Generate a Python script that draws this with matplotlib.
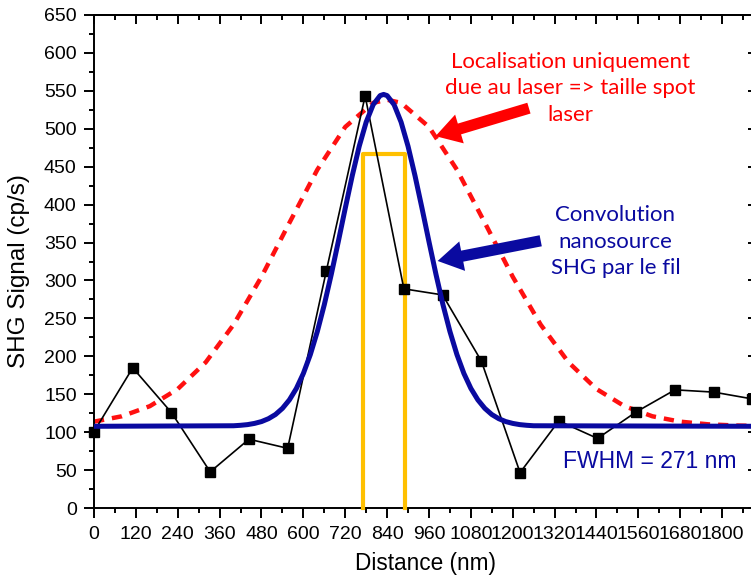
import matplotlib
matplotlib.use("Agg")
import matplotlib.pyplot as plt
from matplotlib.ticker import MultipleLocator

# ---- data ----
dist_nm = [0, 111, 222, 333, 444, 555, 666, 777, 888, 999, 1110, 1221,
           1332, 1443, 1554, 1665, 1776, 1887]
shg_signal = [101, 185, 126, 48, 91, 79, 313, 543, 289, 281, 194, 47,
              115, 92, 127, 156, 153, 144]

fit_x = [0, 400, 420, 440, 460, 480, 500, 520, 540, 560, 580, 600, 620, 640,
         660, 680, 700, 720, 740, 760, 780, 800, 820, 830, 840, 860, 880, 900,
         920, 940, 960, 980, 1000, 1020, 1040, 1060, 1080, 1100, 1120, 1140,
         1160, 1180, 1200, 1220, 1240, 1260, 1900]
fit_y = [108, 108.7, 109.3, 110.2, 111.8, 114.2, 118.0, 123.5, 131.6, 142.8,
         157.9, 177.6, 202.5, 232.8, 268.2, 308.1, 351.0, 395.1, 437.8, 476.7,
         508.6, 531.5, 543.5, 545.0, 543.5, 531.5, 508.6, 476.7, 437.8, 395.1,
         351.0, 308.1, 268.2, 232.8, 202.5, 177.6, 157.9, 142.8, 131.6, 123.5,
         118.0, 114.2, 111.8, 110.2, 109.3, 108.7, 108]

laser_x = [0, 80, 160, 240, 320, 400, 480, 560, 640, 720, 800, 840, 880, 960,
           1040, 1120, 1200, 1280, 1360, 1440, 1520, 1600, 1680, 1760, 1840, 1900]
laser_y = [114.1, 121.2, 134.5, 157.1, 192.2, 241.9, 304.9, 376.0, 445.9,
           502.2, 533.9, 538.0, 533.9, 502.2, 445.9, 376.0, 304.9, 241.9,
           192.2, 157.1, 134.5, 121.2, 114.1, 110.6, 109.0, 108.5]

source_x = [771, 771, 891, 891]
source_y = [0, 467, 467, 0]

xticks = list(range(0, 1801, 120))
yticks = list(range(0, 651, 50))

text_laser = "Localisation uniquement\ndue au laser => taille spot\nlaser"
text_conv = "Convolution\nnanosource\nSHG par le fil"
text_fwhm = "FWHM = 271 nm"

# ---- figure ----
plt.rcParams['font.family'] = ['Liberation Sans', 'DejaVu Sans']
fig = plt.figure(figsize=(7.51, 5.85), dpi=100)
ax = fig.add_axes([0.12517, 0.13111, 0.88282, 0.84376])

navy = '#0a0aa0'
ax.plot(laser_x, laser_y, color='#ff1010', lw=3.2, dashes=(2.3, 1.8), zorder=2)
ax.plot(source_x, source_y, color='#ffc000', lw=3.0, zorder=3, clip_on=False)
ax.plot(dist_nm, shg_signal, color='black', lw=1.2, marker='s', ms=7.3,
        zorder=4, clip_on=False)
ax.plot(fit_x, fit_y, color=navy, lw=3.6, zorder=5)

ax.set_xlim(0, 1900)
ax.set_ylim(0, 650)
ax.set_xticks(xticks)
ax.set_yticks(yticks)
ax.xaxis.set_minor_locator(MultipleLocator(60))
ax.yaxis.set_minor_locator(MultipleLocator(25))
ax.tick_params(which='both', direction='out', width=1.4, labelsize=14,
               pad=5.5)
ax.tick_params(which='major', length=7)
ax.tick_params(which='minor', length=3.6)
for s in ax.spines.values():
    s.set_linewidth(1.4)

top = ax.secondary_xaxis('top')
top.set_xticks(xticks)
top.xaxis.set_minor_locator(MultipleLocator(60))
top.tick_params(which='both', direction='in', width=1.4, labeltop=False)
top.tick_params(which='major', length=6.5)
top.tick_params(which='minor', length=3.6)
top.spines['top'].set_linewidth(1.4)

right = ax.secondary_yaxis('right')
right.set_yticks(yticks)
right.yaxis.set_minor_locator(MultipleLocator(25))
right.tick_params(which='both', direction='in', width=1.4, labelright=False)
right.tick_params(which='major', length=6.5)
right.tick_params(which='minor', length=3.6)
right.spines['right'].set_linewidth(1.4)

ax.set_xlabel("Distance (nm)", fontsize=16.3, labelpad=7)
ax.set_ylabel("SHG Signal (cp/s)", fontsize=17.5)
ax.yaxis.set_label_coords(-0.097, 0.481)

ax.text(1365, 553, text_laser, color='#ff0000', fontsize=16, family='Lato',
        ha='center', va='center', linespacing=1.42, zorder=6)
ax.text(1494, 351, text_conv, color=navy, fontsize=16, family='Lato',
        ha='center', va='center', linespacing=1.42, zorder=6)
ax.text(1345, 61, text_fwhm, color=navy, fontsize=16.5, ha='left',
        va='center', zorder=6)

ax.annotate("", xy=(971, 489), xytext=(1254, 528),
            arrowprops=dict(arrowstyle='simple,head_length=1.0,head_width=1.2,tail_width=0.45',
                            color='#ff0000', lw=0, mutation_scale=18), zorder=6)
ax.annotate("", xy=(977, 325), xytext=(1288, 353),
            arrowprops=dict(arrowstyle='simple,head_length=1.0,head_width=1.2,tail_width=0.45',
                            color=navy, lw=0, mutation_scale=18), zorder=6)

fig.savefig("out.png", dpi=100)
